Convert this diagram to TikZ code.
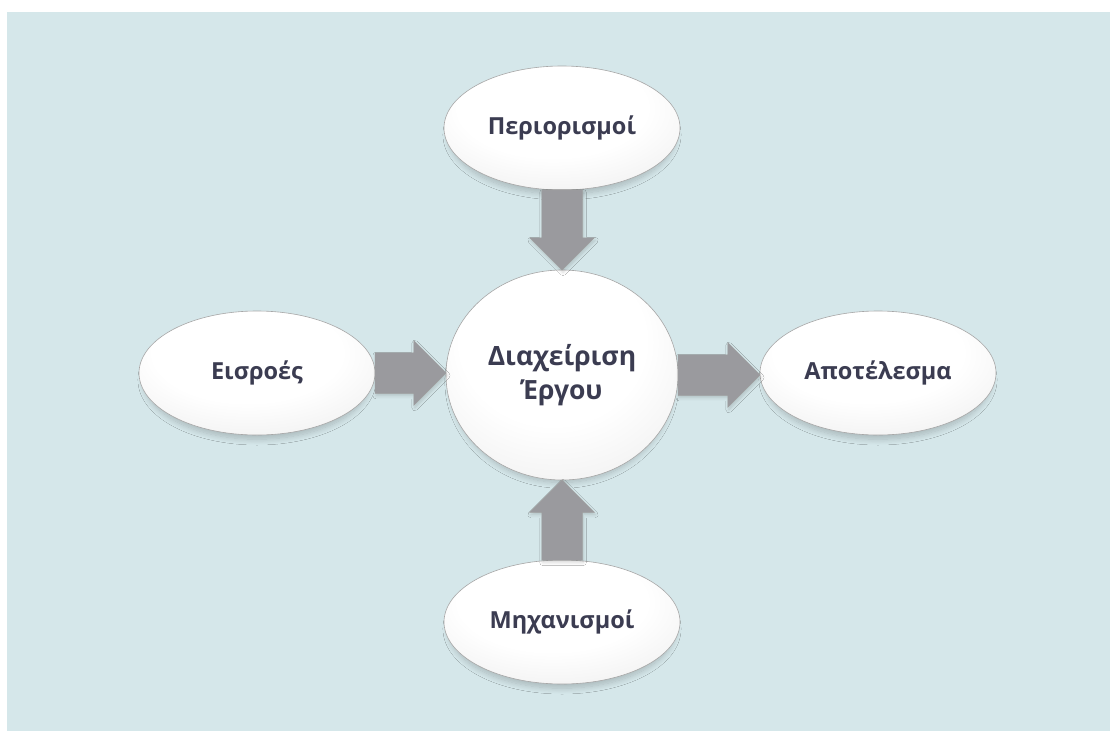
\documentclass[tikz,border=0pt]{standalone}
\usepackage{fontspec}
\setmainfont{Open Sans}
\usetikzlibrary{shapes.geometric,shapes.arrows,shadows.blur,calc}

\definecolor{bgblue}{HTML}{D5E7EA}
\definecolor{labelink}{HTML}{3B3C51}
\definecolor{arrowmid}{HTML}{C0C0C4}
\definecolor{arrowedge}{HTML}{9A9A9E}

% pearl-like fill for the bubbles: bright top, grey rim at the bottom
\pgfdeclareradialshading{pearl}{\pgfpoint{-3bp}{12bp}}{%
  color(0bp)=(white); color(20bp)=(white); color(36bp)=(black!6);
  color(46bp)=(black!15); color(54bp)=(black!27); color(62bp)=(black!40)}

\begin{document}
\begin{tikzpicture}[x=1pt,y=-1pt,
  softshadow/.style={blur shadow={shadow xshift=0pt, shadow yshift=-7pt,
      shadow scale=0.96, shadow blur radius=6pt, shadow blur steps=10,
      shadow opacity=20}},
  bubble/.style={ellipse, shading=pearl, draw=black!35, line width=0.6pt,
      inner sep=0pt, outer sep=0pt, text=labelink, align=center,
      font=\bfseries\fontsize{23.5}{28}\selectfont, softshadow},
  side/.style={bubble, minimum width=236, minimum height=124},
  hub/.style={bubble, minimum width=232, minimum height=210,
      font=\bfseries\fontsize{26.5}{34}\selectfont},
  flow/.style={single arrow, single arrow head extend=12, anchor=tail,
      inner xsep=0pt, inner ysep=20pt, outer sep=0pt, shading=axis,
      top color=arrowedge, middle color=arrowmid, bottom color=arrowedge,
      draw=black!38, line width=0.5pt,
      blur shadow={shadow xshift=1pt, shadow yshift=-2.5pt,
        shadow blur radius=3pt, shadow opacity=16}}]

  % page and backdrop
  \useasboundingbox (0,0) rectangle (1110,731);
  \fill[bgblue] (7,12) rectangle (1110,731);

  % bubbles
  \node[hub]  (hub)    at (562,375) {Διαχείριση\\Έργου};
  \node[side] (limits) at (562,128) {Περιορισμοί};
  \node[side] (inputs) at (257,373) {Εισροές};
  \node[side] (result) at (878,373) {Αποτέλεσμα};
  \node[side] (means)  at (562,622) {Μηχανισμοί};

  % block arrows, tail on one bubble and tip on the next
  \path let \p1=(limits.south), \p2=(hub.north), \n1={veclen(\x2-\x1,\y2-\y1)} in
    node[flow, rotate=-90, minimum height=\n1] (a1) at (\p1) {};
  \path let \p1=(means.north), \p2=(hub.south), \n1={veclen(\x2-\x1,\y2-\y1)} in
    node[flow, rotate=90, minimum height=\n1] (a2) at (\p1) {};
  \path let \p1=(inputs.east), \p2=(hub.west), \n1={veclen(\x2-\x1,\y2-\y1)} in
    node[flow, minimum height=\n1] (a3) at (\p1) {};
  \path let \p1=(hub.east), \p2=(result.west), \n1={veclen(\x2-\x1,\y2-\y1)} in
    node[flow, minimum height=\n1] (a4) at (\p1) {};
\end{tikzpicture}
\end{document}
